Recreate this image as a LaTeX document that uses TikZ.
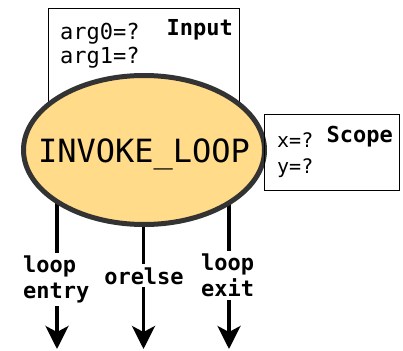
\documentclass[tikz,border=0pt]{standalone}
\usepackage{fontspec}
\setmonofont{DejaVu Sans Mono}
\usetikzlibrary{shapes.geometric,arrows.meta}
\definecolor{loopfill}{HTML}{FFDB8A}
\definecolor{ringgray}{HTML}{333333}
\pgfdeclarelayer{background}
\pgfsetlayers{background,main}
\begin{document}
\begin{tikzpicture}[x=1pt,y=-1pt,
  framebox/.style={draw=black,line width=1.3pt,inner sep=0pt,anchor=north west},
  argtext/.style={anchor=base west,inner sep=0pt,font=\ttfamily\fontsize{22}{26}\selectfont},
  scopetext/.style={anchor=base west,inner sep=0pt,font=\ttfamily\fontsize{20}{24}\selectfont},
  titletext/.style={anchor=base east,inner sep=0pt,font=\ttfamily\bfseries\fontsize{22}{26}\selectfont},
  edgelabel/.style={fill=white,inner sep=3pt,align=left,font=\ttfamily\bfseries\fontsize{22}{26}\selectfont},
  flow/.style={line width=3.5pt,-{Stealth[length=23pt,width=23pt,inset=6pt]}}]
\useasboundingbox (0,0) rectangle (403,350);

% input frame, partly hidden behind the loop node
\node[framebox,minimum width=191pt,minimum height=112pt] (input) at (48,8) {};
\node[argtext] (arg0) at (60,40) {arg0=?};
\node[argtext] (arg1) at (60,64) {arg1=?};
\node[titletext] (inputtitle) at (233,36) {Input};

% the loop node and its name
\node[ellipse,draw=ringgray,line width=5pt,fill=loopfill,
      minimum width=241pt,minimum height=149pt,inner sep=0pt] (loop) at (144,150) {};
\node[inner sep=0pt,anchor=base,font=\ttfamily\fontsize{32}{38}\selectfont]
      (loopname) at (144,162) {INVOKE\_LOOP};

% scope frame
\node[framebox,minimum width=135pt,minimum height=76pt] (scope) at (264,114) {};
\node[scopetext] (xvar) at (277,147) {x=?};
\node[scopetext] (yvar) at (277,173) {y=?};
\node[titletext] (scopetitle) at (393,142) {Scope};

% outgoing edges
\coordinate (out1) at (57,349);
\coordinate (out2) at (143.5,349);
\coordinate (out3) at (229,349);
\begin{pgfonlayer}{background}
  \draw[flow] (loop.center -| out1) -- (out1);
  \draw[flow] (loop.center -| out2) -- (out2);
  \draw[flow] (loop.center -| out3) -- (out3);
\end{pgfonlayer}
\node[edgelabel,anchor=north west] (entrylabel) at (20,253) {loop\\entry};
\node[edgelabel,anchor=base] (orelselabel) at (144,284) {orelse};
\node[edgelabel,anchor=north west] (exitlabel) at (198,251) {loop\\exit};
\end{tikzpicture}
\end{document}
